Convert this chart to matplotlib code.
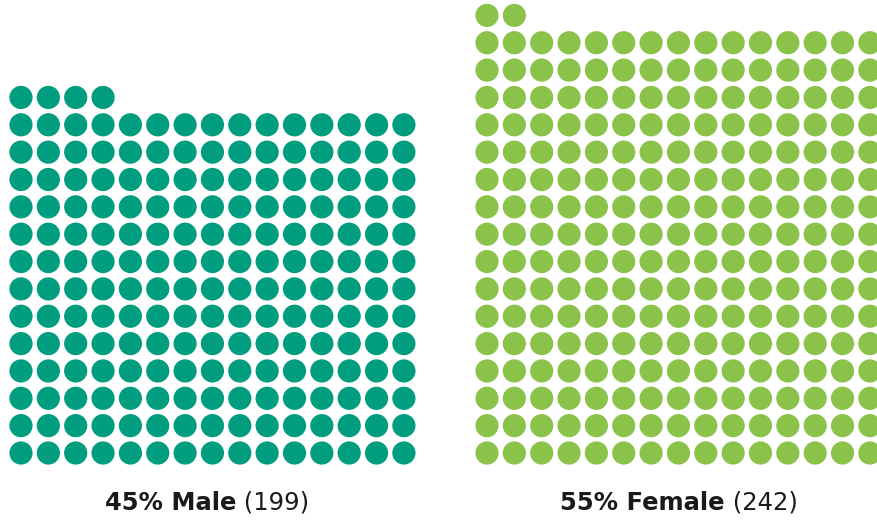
import matplotlib
matplotlib.use("Agg")
import matplotlib.pyplot as plt
from matplotlib.patches import Circle

groups = ["Male", "Female"]
counts = [199, 242]
percents = ["45%", "55%"]
colors = ["#009E7E", "#8BC34A"]

ncols = 15
spacing = 27.35
radius = 11.6
origins_x = [21.0, 487.0]   # first column centre
bottom_y = 453.0             # bottom row centre

fig = plt.figure(figsize=(8.78, 5.24), dpi=100)
ax = fig.add_axes([0, 0, 1, 1])
ax.set_xlim(0, 878)
ax.set_ylim(524, 0)
ax.set_aspect("equal")
ax.axis("off")

for g, n, c, x0 in zip(groups, counts, colors, origins_x):
    nfull = n // ncols
    for i in range(n):
        row = i // ncols
        col = i % ncols
        r_from_bottom = row if row < nfull else nfull
        cx = x0 + col * spacing
        cy = bottom_y - r_from_bottom * spacing
        ax.add_patch(Circle((cx, cy), radius, color=c, lw=0))

fam = ["DejaVu Sans"]
fs = 17.5
label_centers = [207, 679]
fig.canvas.draw()
renderer = fig.canvas.get_renderer()
for p, g, n, xc in zip(percents, groups, counts, label_centers):
    t1 = ax.text(0, 503, f"{p} {g}", fontsize=fs, fontweight="bold", family=fam,
                 ha="left", va="center", color="#1a1a1a")
    t2 = ax.text(0, 503, f" ({n})", fontsize=fs, family=fam,
                 ha="left", va="center", color="#1a1a1a")
    w1 = t1.get_window_extent(renderer).width
    w2 = t2.get_window_extent(renderer).width
    total = w1 + w2
    left = xc - total / 2
    t1.set_x(left)
    t2.set_x(left + w1)

fig.savefig("out.png", dpi=100)
